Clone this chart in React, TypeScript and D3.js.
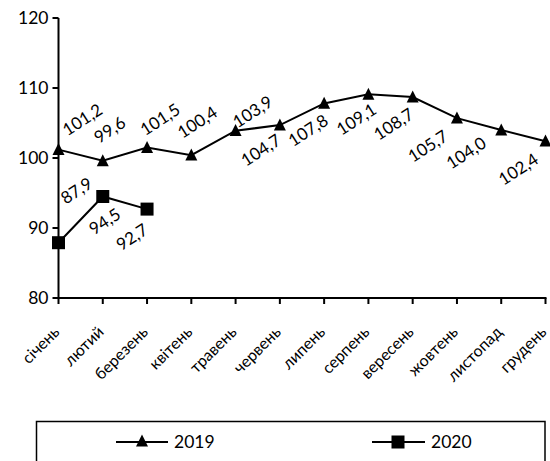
import React from "react";
import * as d3 from "d3";

const months = [
  "січень",
  "лютий",
  "березень",
  "квітень",
  "травень",
  "червень",
  "липень",
  "серпень",
  "вересень",
  "жовтень",
  "листопад",
  "грудень",
];
const values2019 = [101.2, 99.6, 101.5, 100.4, 103.9, 104.7, 107.8, 109.1, 108.7, 105.7, 104.0, 102.4];
const values2020 = [87.9, 94.5, 92.7];
const yTicks = [80, 90, 100, 110, 120];

// where each data label sits relative to its marker (dx, dy)
const labelOffsets2019 = [
  [24, -30], [7, -31], [13, -28], [6, -33], [17, -19], [-19, 25],
  [-16, 27], [-12, 25], [-19, 27], [-29, 28], [-35, 23], [-27, 28],
];
const labelOffsets2020 = [[18, -52], [2, 25], [-15, 28]];

const W = 550;
const H = 461;
const FONT = "Lato, 'Open Sans', sans-serif";

const fmt = (v: number) => v.toFixed(1).replace(".", ",");

const Triangle = ({ x, y, s = 12 }: { x: number; y: number; s?: number }) => (
  <path
    d={`M${x},${y - s * 0.55} L${x + s / 2},${y + s * 0.45} L${x - s / 2},${y + s * 0.45} Z`}
    fill="#000"
  />
);

const Square = ({ x, y, s = 13 }: { x: number; y: number; s?: number }) => (
  <rect x={x - s / 2} y={y - s / 2} width={s} height={s} fill="#000" />
);

const RotText = ({
  x,
  y,
  angle,
  anchor,
  size,
  dy = "0.35em",
  children,
}: {
  x: number;
  y: number;
  angle: number;
  anchor: string;
  size: number;
  dy?: string;
  children: React.ReactNode;
}) => (
  <text transform={`translate(${x},${y}) rotate(${angle})`} dy={dy} textAnchor={anchor} fontSize={size}>
    {children}
  </text>
);

export default function App() {
  const x = d3.scalePoint<string>().domain(months).range([58.5, 545.5]).padding(0);
  const y = d3.scaleLinear().domain([80, 120]).range([298, 18]);

  const line = d3
    .line<number>()
    .x((_, i) => x(months[i]) ?? 0)
    .y((d) => y(d));

  const x0 = x.range()[0];
  const x1 = x.range()[1];
  const yBase = y(80);

  return (
    <svg
      width={W}
      height={H}
      style={{ position: "absolute", left: 0, top: 0, background: "#fff" }}
      fontFamily={FONT}
    >
      {/* y axis */}
      <line x1={x0} x2={x0} y1={y(120)} y2={yBase} stroke="#000" strokeWidth={2} />
      {yTicks.map((t) => (
        <g key={t}>
          <line x1={x0 - 6} x2={x0} y1={y(t)} y2={y(t)} stroke="#000" strokeWidth={2} />
          <text x={x0 - 10} y={y(t)} dy="0.35em" textAnchor="end" fontSize={17.5}>
            {t}
          </text>
        </g>
      ))}

      {/* x axis */}
      <line x1={x0 - 1} x2={x1 + 1} y1={yBase} y2={yBase} stroke="#000" strokeWidth={2} />
      {months.map((m) => (
        <g key={m}>
          <line x1={x(m)} x2={x(m)} y1={yBase} y2={yBase + 6} stroke="#000" strokeWidth={2} />
          <RotText x={(x(m) ?? 0) + 2} y={yBase + 35} angle={-45} anchor="end" size={16} dy="0">
            {m}
          </RotText>
        </g>
      ))}

      {/* series lines */}
      <path d={line(values2019) ?? ""} fill="none" stroke="#000" strokeWidth={2} />
      <path d={line(values2020) ?? ""} fill="none" stroke="#000" strokeWidth={2} />

      {values2019.map((v, i) => (
        <Triangle key={"t" + i} x={x(months[i]) ?? 0} y={y(v)} />
      ))}
      {values2020.map((v, i) => (
        <Square key={"s" + i} x={x(months[i]) ?? 0} y={y(v)} />
      ))}

      {/* data labels */}
      {values2019.map((v, i) => (
        <RotText
          key={"l19" + i}
          x={(x(months[i]) ?? 0) + labelOffsets2019[i][0]}
          y={y(v) + labelOffsets2019[i][1]}
          angle={-33}
          anchor="middle"
          size={17}
        >
          {fmt(v)}
        </RotText>
      ))}
      {values2020.map((v, i) => (
        <RotText
          key={"l20" + i}
          x={(x(months[i]) ?? 0) + labelOffsets2020[i][0]}
          y={y(v) + labelOffsets2020[i][1]}
          angle={-33}
          anchor="middle"
          size={17}
        >
          {fmt(v)}
        </RotText>
      ))}

      {/* legend */}
      <rect x={36.5} y={421.5} width={508.5} height={60} fill="none" stroke="#000" strokeWidth={1.5} />
      <line x1={116} x2={168} y1={442} y2={442} stroke="#000" strokeWidth={2} />
      <Triangle x={142} y={441} />
      <text x={174} y={442} dy="0.35em" fontSize={17.5}>
        2019
      </text>
      <line x1={372} x2={425} y1={442} y2={442} stroke="#000" strokeWidth={2} />
      <Square x={398} y={442} />
      <text x={431} y={442} dy="0.35em" fontSize={17.5}>
        2020
      </text>
    </svg>
  );
}
